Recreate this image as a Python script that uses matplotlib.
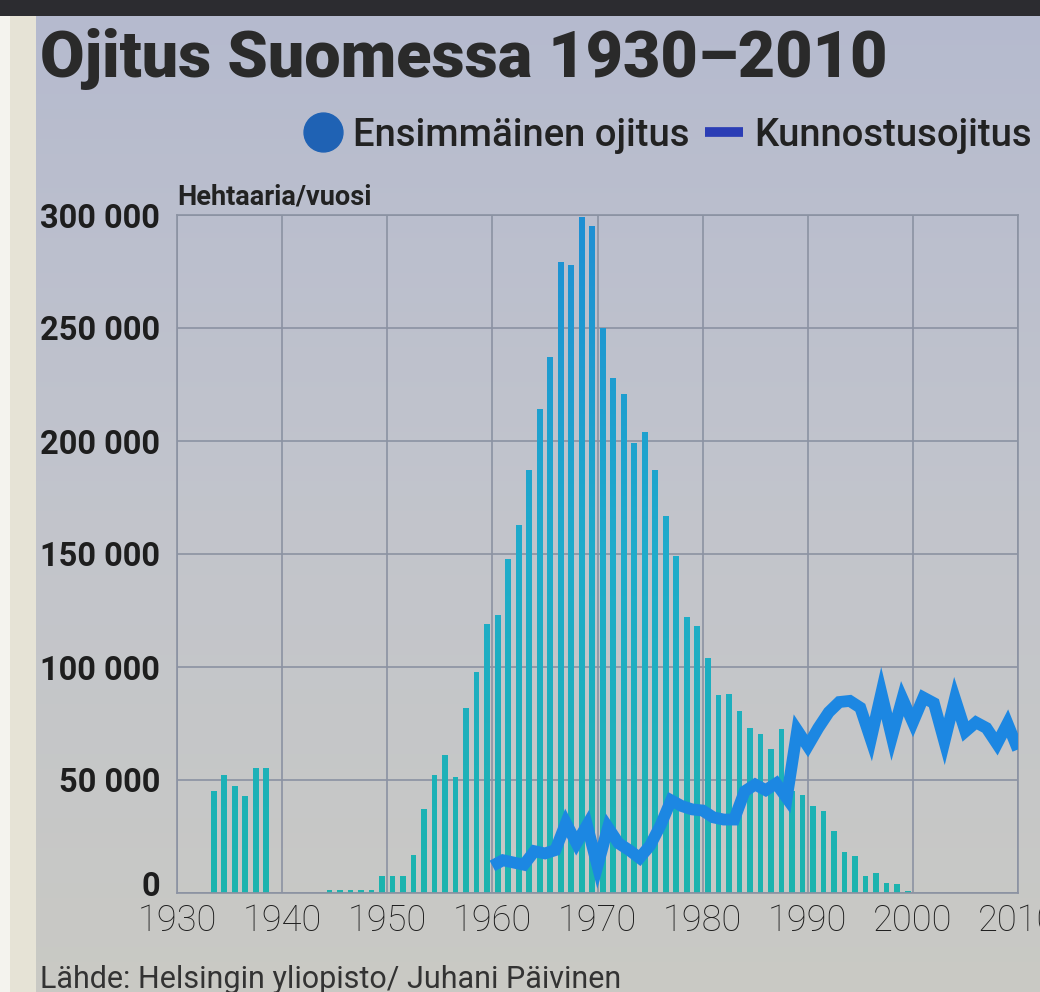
import numpy as np
import matplotlib
matplotlib.use("Agg")
import matplotlib.pyplot as plt
from matplotlib.colors import LinearSegmentedColormap
from matplotlib.path import Path
from matplotlib.patches import PathPatch, Rectangle
from matplotlib.lines import Line2D
from matplotlib.transforms import offset_copy

# ---------------- data ----------------
title = "Ojitus Suomessa 1930\u20132010"
series_names = ["Ensimmäinen ojitus", "Kunnostusojitus"]
unit_label = "Hehtaaria/vuosi"
source_text = "Lähde: Helsingin yliopisto/ Juhani Päivinen"

bar_years = [1933, 1934, 1935, 1936, 1937, 1938,
             1944, 1945, 1946, 1947, 1948, 1949, 1950, 1951, 1952, 1953,
             1954, 1955, 1956, 1957, 1958, 1959, 1960, 1961, 1962, 1963,
             1964, 1965, 1966, 1967, 1968, 1969, 1970, 1971, 1972, 1973,
             1974, 1975, 1976, 1977, 1978, 1979, 1980, 1981, 1982, 1983,
             1984, 1985, 1986, 1987, 1988, 1989, 1990, 1991, 1992, 1993,
             1994, 1995, 1996, 1997, 1998, 1999]
first_drainage = [45000, 52000, 47500, 43000, 55500, 55500,
                  1500, 1500, 1500, 1500, 1500, 7500, 7500, 7500, 17000, 37000,
                  52000, 61000, 51500, 82000, 98000, 119000, 123000, 148000, 163000, 187000,
                  214000, 237000, 279000, 278000, 299000, 295000, 250000, 228000, 221000, 199000,
                  204000, 187000, 167000, 149000, 122000, 118000, 104000, 87500, 88000, 80500,
                  73000, 70500, 63500, 72500, 45000, 43500, 38500, 36500, 27500, 18000,
                  16500, 7500, 9000, 4500, 4000, 1000]

line_years = list(range(1960, 2011))
restoration = [12000, 14500, 13500, 12500, 18500, 17500, 19000, 31000, 22000, 30000,
               12000, 29000, 22000, 19000, 15500, 21000, 30000, 41000, 38500, 37000,
               36500, 33500, 32500, 32500, 45000, 48000, 45500, 48500, 42000, 72000,
               65000, 73000, 80000, 84500, 85000, 82000, 68000, 88500, 69000, 86000,
               75500, 86500, 84000, 67000, 86000, 71500, 75500, 73000, 66000, 75000,
               63500]

x_ticks = [1930, 1940, 1950, 1960, 1970, 1980, 1990, 2000, 2010]
y_ticks = [0, 50000, 100000, 150000, 200000, 250000, 300000]
y_tick_labels = ["0", "50 000", "100 000", "150 000", "200 000", "250 000", "300 000"]

# ---------------- figure ----------------
W, H = 1040, 992
fig = plt.figure(figsize=(W / 100, H / 100), dpi=100)

# photo-like background
bg = fig.add_axes([0, 0, 1, 1], zorder=-10)
bg.set_axis_off()
top_c = np.array([0.71, 0.73, 0.81])
mid_c = np.array([0.76, 0.77, 0.80])
bot_c = np.array([0.79, 0.79, 0.77])
t = np.linspace(0, 1, 200)[:, None]
grad = np.where(t < 0.5,
                top_c + (mid_c - top_c) * (t / 0.5),
                mid_c + (bot_c - mid_c) * ((t - 0.5) / 0.5))
grad = np.repeat(grad[:, None, :], 2, axis=1)
bg.imshow(grad, extent=[0, 1, 0, 1], aspect="auto", origin="upper")
bg.add_patch(Rectangle((0, 0), 36 / W, 1, color="#e6e3d6", lw=0))
bg.add_patch(Rectangle((0, 0), 10 / W, 1, color="#f4f3ee", lw=0))
bg.add_patch(Rectangle((0, 1 - 16 / H), 1, 16 / H, color="#2c2c30", lw=0))
bg.set_xlim(0, 1)
bg.set_ylim(0, 1)

left, right, top, bottom = 177, 1018, 215, 893
ax = fig.add_axes([left / W, 1 - bottom / H, (right - left) / W, (bottom - top) / H])
ax.set_facecolor("none")

bars = ax.bar(np.array(bar_years) + 0.5, first_drainage, width=0.55,
              color="#1cb3b0", zorder=2, linewidth=0)

# vertical colour gradient inside bars (photo tint)
paths = [r.get_path().transformed(r.get_patch_transform()) for r in bars]
compound = Path.make_compound_path(*paths)
clip = PathPatch(compound, transform=ax.transData, facecolor="none", edgecolor="none")
ax.add_patch(clip)
cmap = LinearSegmentedColormap.from_list("tint", ["#1cb4ae", "#1faccb", "#1e8fd4"])
g = np.linspace(0, 1, 256).reshape(-1, 1)
im = ax.imshow(g, cmap=cmap, origin="lower", extent=[1930, 2010, 0, 300000],
               aspect="auto", zorder=2.5, interpolation="bilinear")
im.set_clip_path(clip)

ax.plot(line_years, restoration, color="#1c87e2", lw=8.5, zorder=4,
        solid_joinstyle="miter", solid_capstyle="butt")

ax.set_xlim(1930, 2010)
ax.set_ylim(0, 300000)
ax.set_xticks(x_ticks)
ax.set_xticklabels([str(v) for v in x_ticks])
ax.set_yticks(y_ticks)
ax.set_yticklabels(y_tick_labels)
ax.grid(True, color="#8b92a2", lw=1.2, zorder=0)
ax.set_axisbelow(True)
for s in ax.spines.values():
    s.set_color("#8b92a2")
    s.set_linewidth(1.2)
ax.tick_params(axis="both", length=0)
ax.tick_params(axis="y", pad=12, labelsize=23.5, labelcolor="#1e1e1e")
ax.tick_params(axis="x", pad=7, labelsize=26, labelcolor="#1e1e1e")
for lab in ax.get_yticklabels():
    lab.set_fontfamily("Roboto")
    lab.set_fontweight("bold")
ylabs = ax.get_yticklabels()
ylabs[0].set_transform(offset_copy(ylabs[0].get_transform(), fig=fig, x=0, y=9, units="dots"))
for lab in ax.get_xticklabels():
    lab.set_fontfamily("Roboto")
    lab.set_fontweight("light")

fig.text(40 / W, 1 - 59 / H, title, fontsize=46.5, fontweight="heavy",
         family="Roboto", color="#2a2a2a", va="center", ha="left")
fig.text(177 / W, 1 - 197 / H, unit_label, fontsize=19.5, fontweight="semibold",
         family="Roboto", color="#222222", va="center", ha="left")
fig.text(40 / W, 1 - 979 / H, source_text, fontsize=22,
         family="Roboto", color="#333333", va="center", ha="left")

handles = [Line2D([], [], marker="o", ls="none", ms=28, color="#1f62b4"),
           Line2D([], [], lw=7, color="#2b3db5", solid_capstyle="butt")]
leg = fig.legend(handles, series_names, loc="center right",
                 bbox_to_anchor=(1040 / W, 1 - 135 / H), ncol=2, frameon=False,
                 prop={"family": "Roboto", "size": 27.5, "weight": "medium"},
                 handlelength=1.0, handletextpad=0.3, columnspacing=0.4,
                 borderpad=0.1, borderaxespad=0.1)
for txt in leg.get_texts():
    txt.set_color("#222222")

fig.savefig("out.png", dpi=100)
